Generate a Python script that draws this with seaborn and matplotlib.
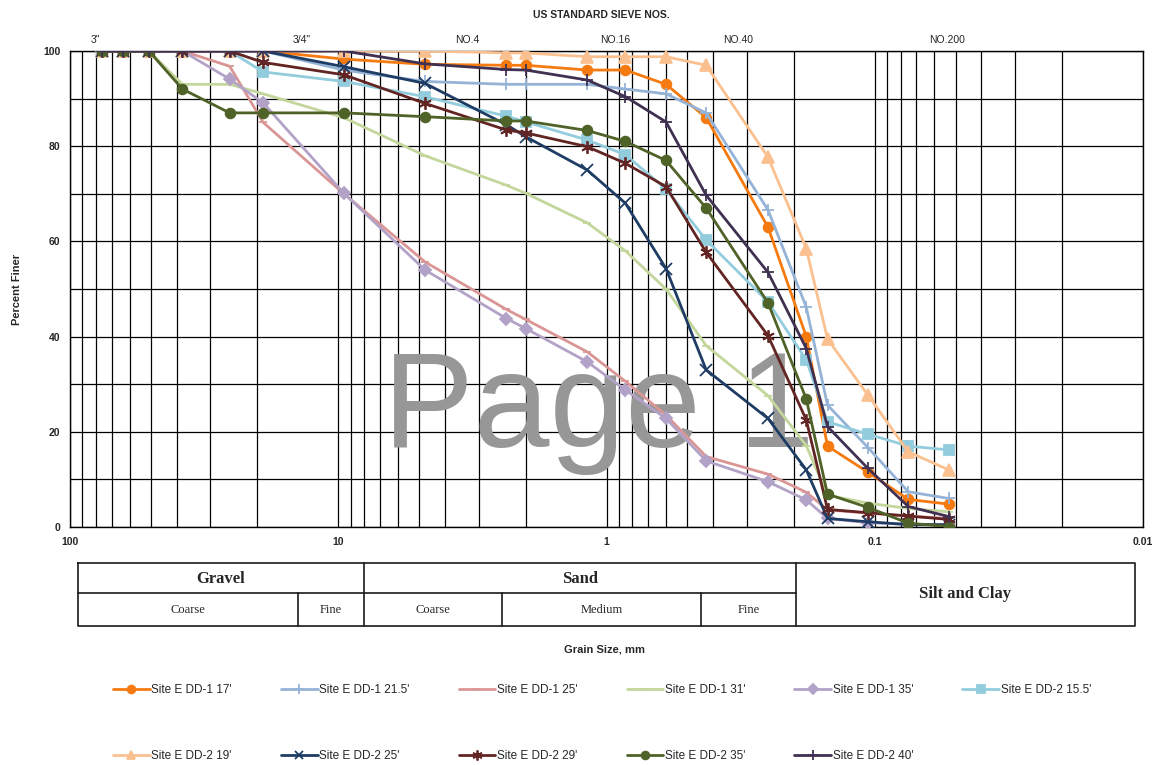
import numpy as np
import pandas as pd
import matplotlib
matplotlib.use("Agg")
import matplotlib.pyplot as plt
from matplotlib.ticker import FixedLocator, FixedFormatter, LogLocator, NullFormatter, MultipleLocator
import seaborn as sns

# Sieve openings (mm): 3", 2.5", 2", 1.5", 1", 3/4", 3/8", #4, #8, #10, #16, #20, #30, #40, #60, #80, #100, #140, #200, #270
sieve_mm = [76.2, 63.5, 50.8, 38.1, 25.4, 19.05, 9.525, 4.75, 2.36, 2.0,
            1.18, 0.85, 0.6, 0.425, 0.25, 0.18, 0.15, 0.106, 0.075, 0.053]

dd1_17 = [100, 100, 100, 100, 100, 100, 98.3, 97.2, 97, 97, 96, 96, 93, 86, 63, 40, 17, 11.5, 5.8, 4.8]
dd1_215 = [100, 100, 100, 100, 100, 100, 96, 93.6, 93, 93, 93, 92, 91, 87, 66.6, 46.2, 25.6, 16.7, 7.4, 6.0]
dd1_25 = [100, 100, 100, 100, 96.8, 85, 70, 55.7, 45.7, 43.6, 36.8, 30.6, 23.5, 14.8, 11.1, 7.3, 3.6, 2.9, 2.3, 1.8]
dd1_31 = [100, 100, 100, 93, 93, 91, 86, 78, 71.8, 70.1, 63.9, 58, 50, 38.1, 27.6, 17.1, 6.7, 5, 3.9, 3.2]
dd1_35 = [100, 100, 100, 100, 94.1, 89.1, 70.1, 54, 43.8, 41.7, 34.7, 28.8, 22.8, 13.9, 9.5, 5.7, 1.8, 0.9, 0.6, 0.4]
dd2_155 = [100, 100, 100, 100, 100, 95.6, 93.6, 90.4, 86.3, 85.1, 81.3, 78.2, 71, 60.3, 47.3, 35.1, 22.1, 19.5, 17, 16.2]
dd2_19 = [100, 100, 100, 100, 100, 100, 100, 100, 99.6, 99.6, 98.8, 98.8, 98.8, 97, 77.7, 58.5, 39.5, 27.7, 15.8, 12]
dd2_25 = [100, 100, 100, 100, 100, 100, 96.7, 93.2, 84.5, 82, 75, 68, 54.3, 33, 22.8, 12, 1.8, 1.1, 0.5, 0.5]
dd2_29 = [100, 100, 100, 100, 100, 97.6, 95, 89, 83.4, 82.8, 79.9, 76.4, 71.5, 57.7, 40.2, 22.5, 3.7, 3, 2.3, 1.6]
dd2_35 = [100, 100, 100, 92, 87, 87, 87, 86.2, 85.3, 85.3, 83.3, 81, 77, 67, 47.1, 26.9, 6.9, 4.1, 0.8, 0.1]
dd2_40 = [100, 100, 100, 100, 100, 100, 100, 97.3, 96.1, 96, 93.9, 90.4, 85.1, 69.7, 53.5, 37.5, 21.1, 12.3, 4.3, 2.2]

sample_names = ["Site E DD-1 17'", "Site E DD-1 21.5'", "Site E DD-1 25'", "Site E DD-1 31'",
                "Site E DD-1 35'", "Site E DD-2 15.5'", "Site E DD-2 19'", "Site E DD-2 25'",
                "Site E DD-2 29'", "Site E DD-2 35'", "Site E DD-2 40'"]
sample_values = [dd1_17, dd1_215, dd1_25, dd1_31, dd1_35, dd2_155, dd2_19, dd2_25, dd2_29, dd2_35, dd2_40]

x_tick_values = [100, 10, 1, 0.1, 0.01]
x_tick_labels = ["100", "10", "1", "0.1", "0.01"]
sieve_labels = ['3"', '3/4"', "NO.4", "NO.16", "NO.40", "NO.200"]
soil_groups = ["Gravel", "Sand", "Silt and Clay"]
soil_subgroups = ["Coarse", "Fine", "Coarse", "Medium", "Fine"]

colors = ["#F57A10", "#95B3D7", "#D99694", "#C3D69B", "#B3A2C7", "#93CDDD",
          "#FAC090", "#1F3D64", "#632523", "#4F6228", "#403152"]
markers = ["o", "+", "_", "_", "D", "s", "^", "x", (6, 2, 0), "o", "+"]
msizes = [7, 9, 6, 6, 6, 7, 8, 8, 9, 7, 9]

long = pd.DataFrame({
    "sample": np.repeat(sample_names, len(sieve_mm)),
    "size_mm": np.tile(sieve_mm, len(sample_names)),
    "finer": np.concatenate(sample_values),
})

sns.set_style("white")
plt.rcParams["font.family"] = ["Liberation Sans", "DejaVu Sans"]

W, H = 1157, 765
fig = plt.figure(figsize=(W / 100, H / 100), dpi=100)
ax = fig.add_axes([70 / W, 1 - 527 / H, 1073 / W, 476 / H])

for i, name in enumerate(sample_names):
    sub = long[long["sample"] == name]
    sns.lineplot(data=sub, x="size_mm", y="finer", ax=ax, color=colors[i],
                 marker=markers[i], markersize=msizes[i], markeredgecolor=colors[i],
                 markerfacecolor=colors[i], markeredgewidth=1.3, linewidth=2.0,
                 label=name, legend=False, errorbar=None, zorder=3 + i)

ax.set_xscale("log")
ax.set_xlim(100, 0.01)
ax.set_ylim(0, 100)
ax.xaxis.set_major_locator(FixedLocator(x_tick_values))
ax.xaxis.set_major_formatter(FixedFormatter(x_tick_labels))
ax.xaxis.set_minor_locator(LogLocator(base=10, subs=np.arange(2, 10)))
ax.xaxis.set_minor_formatter(NullFormatter())
ax.yaxis.set_major_locator(MultipleLocator(20))
ax.yaxis.set_minor_locator(MultipleLocator(10))
ax.grid(which="both", color="black", linewidth=0.9)
ax.set_axisbelow(True)
ax.tick_params(axis="x", which="both", length=0, pad=7, labelsize=7.5)
ax.tick_params(axis="y", which="major", length=4, width=0.9, color="black",
               direction="out", pad=3, labelsize=7.5)
ax.tick_params(axis="y", which="minor", length=0)
for lab in ax.get_xticklabels() + ax.get_yticklabels():
    lab.set_fontweight("bold")
for sp in ax.spines.values():
    sp.set_color("black")
    sp.set_linewidth(1.0)
ax.set_xlabel("")
ax.set_ylabel("")

# watermark text between grid and curves (display pixels, origin bottom-left)
ax.text(383, H - 447, "Page 1", transform=None, fontsize=98, color="#979797",
        ha="left", va="baseline", zorder=2)

# pixel-space overlay for titles, sieve names and the soil classification table
ov = fig.add_axes([0, 0, 1, 1])
ov.set_xlim(0, W)
ov.set_ylim(H, 0)
ov.axis("off")
ov.patch.set_alpha(0)

ov.text(601, 15, "US STANDARD SIEVE NOS.", ha="center", va="center",
        fontsize=7.5, fontweight="bold")
for lab, px in zip(sieve_labels, [95, 302, 467, 615, 738, 947]):
    ov.text(px, 40, lab, ha="center", va="center", fontsize=7.5)
ov.text(17, 289, "Percent Finer", rotation=90, ha="center", va="center",
        fontsize=8, fontweight="bold")
ov.text(605, 649, "Grain Size, mm", ha="center", va="center",
        fontsize=8, fontweight="bold")

lc = "#1a1a1a"
lw = 1.2
ov.plot([78, 1135, 1135, 78, 78], [563, 563, 626, 626, 563], color=lc, lw=lw)
ov.plot([78, 796], [593, 593], color=lc, lw=lw)
for xv in (364, 796):
    ov.plot([xv, xv], [563, 626], color=lc, lw=lw)
for xv in (298, 502, 701):
    ov.plot([xv, xv], [593, 626], color=lc, lw=lw)

serif = ["Liberation Serif", "DejaVu Serif"]
for lab, px, py in zip(soil_groups, [221, 580, 965], [579, 579, 594]):
    ov.text(px, py, lab, ha="center", va="center", fontsize=12,
            fontweight="bold", family=serif)
for lab, px in zip(soil_subgroups, [188, 331, 433, 602, 749]):
    ov.text(px, 610, lab, ha="center", va="center", fontsize=9, family=serif)

handles, labels = ax.get_legend_handles_labels()
order = [0, 6, 1, 7, 2, 8, 3, 9, 4, 10, 5]
fig.legend([handles[k] for k in order], [labels[k] for k in order], ncol=6,
           loc="upper left", bbox_to_anchor=(113 / W, 1 - 684 / H),
           frameon=False, fontsize=8.5, handlelength=3.1, handletextpad=0.15,
           columnspacing=4.15, labelspacing=4.6, borderpad=0, borderaxespad=0,
           markerscale=0.8)

fig.savefig("out.png", dpi=100)
